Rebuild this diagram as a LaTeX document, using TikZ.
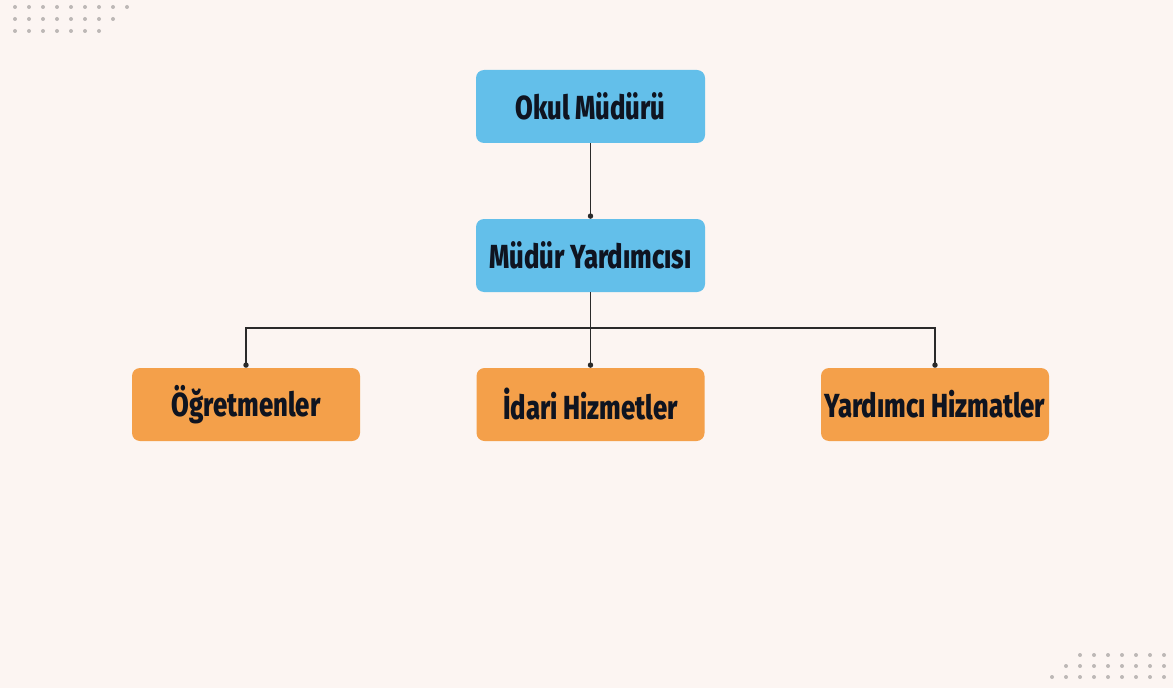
\documentclass[tikz,border=0pt]{standalone}
\usepackage{fontspec}
\setmainfont{Fira Sans}[FakeStretch=0.77, BoldFont={Fira Sans ExtraBold}]
\usepackage{xcolor}
\usetikzlibrary{positioning,arrows.meta,calc}
\definecolor{PageBg}{HTML}{FCF5F2}
\definecolor{BoxBlue}{HTML}{63BFEA}
\definecolor{BoxOrange}{HTML}{F4A04A}
\definecolor{TextDark}{HTML}{0F1420}
\definecolor{DotGray}{HTML}{BDB8B6}
\definecolor{LineDark}{HTML}{2A2A2A}

\begin{document}
\begin{tikzpicture}[
      x=0.75pt, y=-0.75pt,
      every node/.style={font=\fontsize{25}{27}\selectfont\bfseries},
      BL/.style={fill=BoxBlue, rounded corners=6pt, minimum width=171.75pt,
          minimum height=54.75pt, inner sep=0pt, align=center, text=TextDark},
      OR/.style={fill=BoxOrange, rounded corners=6pt, minimum width=171pt,
          minimum height=54.75pt, inner sep=0pt, align=center, text=TextDark},
      ln/.style={-{Circle[length=4pt]}, LineDark, line width=0.9pt},
    ]
    % Background
    \fill[PageBg] (0,0) rectangle (1173,688);
    \useasboundingbox (0,0) rectangle (1173,688);

    % Dots
    \foreach \r/\n in {7/9,19/8,31/7}
    \foreach \i in {1,...,\n}
    \fill[DotGray] ({15+14*(\i-1)},\r) circle (2);
    \foreach \r/\n in {655/7,666/8,677/9}
    \foreach \i in {1,...,\n}
    \fill[DotGray] ({1164-14*(\i-1)},\r) circle (2);

    % Top
    \node[BL] (okul) at (590.5,106.5) {Okul Müdürü};
    \node[BL] (yard) at (590.5,255.5) {Müdür Yardımcısı};

    % Bottom
    \node[OR] (ogrt) at (246,404.5) {Öğretmenler};
    \node[OR] (idar) at (590.5,404.5) {İdari Hizmetler};
    \node[OR] (yhiz) at (935,404.5) {Yardımcı Hizmatler};

    % Connectors
    \coordinate (split) at (590.5,328);
    \draw[ln] (okul) -- (yard);
    \draw[LineDark, line width=0.9pt] (yard) -- (split);
    \foreach \b in {ogrt,idar,yhiz}
    \draw[ln] (split) -| (\b);
  \end{tikzpicture}
\end{document}
